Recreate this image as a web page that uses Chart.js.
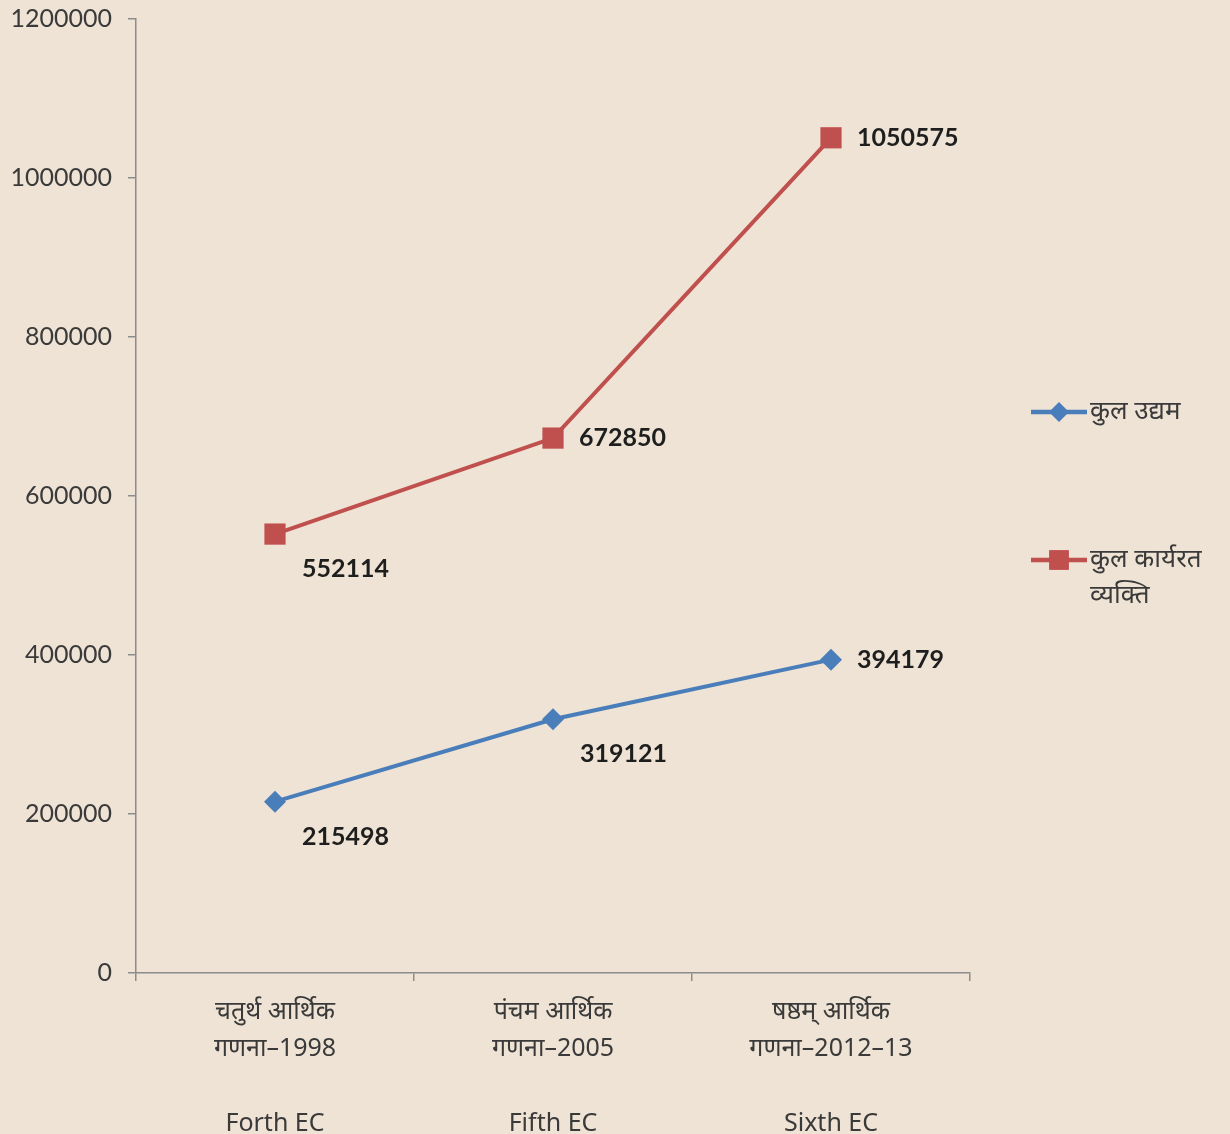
<!DOCTYPE html>
<html>
<head>
<meta charset="utf-8">
<script src="https://cdn.jsdelivr.net/npm/chart.js@4.4.1/dist/chart.umd.min.js"></script>
<style>
  html, body { margin: 0; padding: 0; background: #EEE3D4; }
  #wrap { position: relative; width: 1230px; height: 1134px; }
  canvas { display: block; }
</style>
</head>
<body>
<div id="wrap"><canvas id="c" width="1230" height="1134"></canvas></div>
<script>
// ---- data ----
const categories = [
  ["चतुर्थ आर्थिक", "गणना–1998", "", "Forth EC"],
  ["पंचम आर्थिक", "गणना–2005", "", "Fifth EC"],
  ["षष्ठम् आर्थिक", "गणना–2012–13", "", "Sixth EC"]
];
const enterprises = [215498, 319121, 394179];       // कुल उद्यम
const workers = [552114, 672850, 1050575];           // कुल कार्यरत व्यक्ति
const seriesNames = ["कुल उद्यम", ["कुल कार्यरत", "व्यक्ति"]];
const yTicks = [0, 200000, 400000, 600000, 800000, 1000000, 1200000];

// ---- styles ----
const BLUE = '#4A7EBB';
const RED = '#C0504D';
const AXIS = '#8C8C8C';
const TEXT = '#3A3A3A';
const FONT = "'Noto Sans', Lato, 'DejaVu Sans', sans-serif";
const NUMFONT = "Lato, 'Open Sans', sans-serif";
// label placement for each point: 'right' or 'below'
const placeEnterprises = ['below', 'below', 'right'];
const placeWorkers = ['below', 'right', 'right'];

const bgPlugin = {
  id: 'bg',
  beforeDraw(chart) {
    const ctx = chart.ctx;
    ctx.save();
    ctx.fillStyle = '#EEE3D4';
    ctx.fillRect(0, 0, chart.width, chart.height);
    ctx.restore();
  }
};

const labelPlugin = {
  id: 'pointLabels',
  afterDatasetsDraw(chart) {
    const ctx = chart.ctx;
    ctx.save();
    ctx.font = "bold 25px " + NUMFONT;
    ctx.fillStyle = '#1E1E1E';
    ctx.textBaseline = 'middle';
    ctx.textAlign = 'left';
    chart.data.datasets.forEach((ds, di) => {
      const meta = chart.getDatasetMeta(di);
      meta.data.forEach((pt, i) => {
        const p = ds.placement[i];
        let x = pt.x, y = pt.y;
        if (p === 'right') { x += 26; }
        else { x += 27; y += 35; }
        ctx.fillText(String(ds.data[i]), x, y);
      });
    });
    ctx.restore();
  }
};

const legendPlugin = {
  id: 'customLegend',
  afterDraw(chart) {
    const ctx = chart.ctx;
    ctx.save();
    const items = [
      { y: 412, color: BLUE, style: 'rectRot', r: 10, text: seriesNames[0] },
      { y: 560, color: RED, style: 'rect', r: 14, text: seriesNames[1] }
    ];
    items.forEach(it => {
      ctx.strokeStyle = it.color;
      ctx.lineWidth = 4.5;
      ctx.beginPath();
      ctx.moveTo(1031, it.y);
      ctx.lineTo(1087, it.y);
      ctx.stroke();
      ctx.fillStyle = it.color;
      Chart.helpers.drawPoint(ctx, { pointStyle: it.style, radius: it.r, borderWidth: 0 }, 1059, it.y);
      ctx.fillStyle = TEXT;
      ctx.font = "26px " + FONT;
      ctx.textBaseline = 'middle';
      ctx.textAlign = 'left';
      const lines = Array.isArray(it.text) ? it.text : [it.text];
      lines.forEach((t, k) => ctx.fillText(t, 1090, it.y + k * 36));
    });
    ctx.restore();
  }
};

new Chart(document.getElementById('c'), {
  type: 'line',
  data: {
    labels: categories,
    datasets: [
      {
        label: 'कुल उद्यम',
        data: enterprises,
        placement: placeEnterprises,
        borderColor: BLUE,
        backgroundColor: BLUE,
        borderWidth: 4,
        pointStyle: 'rectRot',
        pointRadius: 11,
        pointBorderWidth: 0,
        tension: 0
      },
      {
        label: 'कुल कार्यरत व्यक्ति',
        data: workers,
        placement: placeWorkers,
        borderColor: RED,
        backgroundColor: RED,
        borderWidth: 4,
        pointStyle: 'rect',
        pointRadius: 15,
        pointBorderWidth: 0,
        tension: 0
      }
    ]
  },
  options: {
    responsive: false,
    animation: false,
    layout: { padding: { top: 19, right: 260, left: 0, bottom: 0 } },
    plugins: { legend: { display: false }, tooltip: { enabled: false } },
    scales: {
      x: {
        offset: true,
        grid: { display: true, offset: true, drawOnChartArea: false, drawTicks: true, tickLength: 8, color: AXIS, lineWidth: 1.5 },
        border: { display: true, color: AXIS, width: 1.5 },
        ticks: {
          color: TEXT,
          font: { family: FONT, size: 25, lineHeight: 1.5 },
          padding: 12,
          maxRotation: 0,
          autoSkip: false
        },
        afterFit(scale) { scale.height = 161; scale.paddingLeft = 0; scale.paddingRight = 0; }
      },
      y: {
        min: 0,
        max: 1200000,
        afterBuildTicks(scale) { scale.ticks = yTicks.map(v => ({ value: v })); },
        grid: { display: true, drawOnChartArea: false, drawTicks: true, tickLength: 8, color: AXIS, lineWidth: 1.5 },
        border: { display: true, color: AXIS, width: 1.5 },
        ticks: {
          color: TEXT,
          font: { family: NUMFONT, size: 25 },
          padding: 16,
          callback: v => String(v)
        },
        afterFit(scale) { scale.width = 136; scale.paddingTop = 0; scale.paddingBottom = 0; }
      }
    }
  },
  plugins: [bgPlugin, labelPlugin, legendPlugin]
});
</script>
</body>
</html>
